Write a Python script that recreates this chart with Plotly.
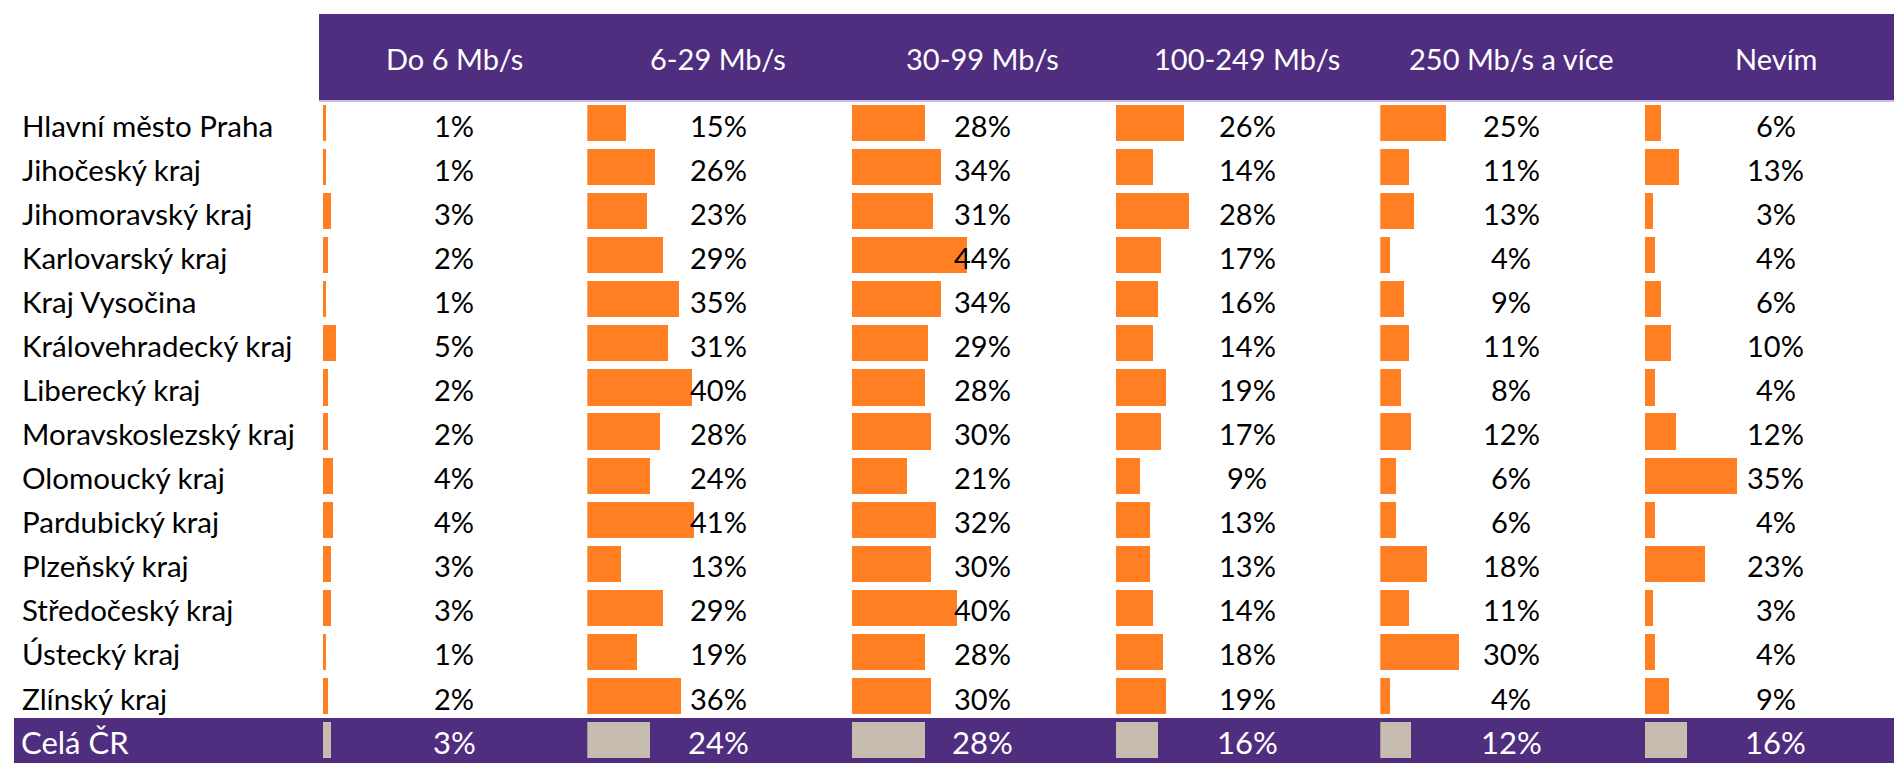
import plotly.graph_objects as go

regions = ["Hlavní město Praha", "Jihočeský kraj", "Jihomoravský kraj", "Karlovarský kraj",
           "Kraj Vysočina", "Královehradecký kraj", "Liberecký kraj", "Moravskoslezský kraj",
           "Olomoucký kraj", "Pardubický kraj", "Plzeňský kraj", "Středočeský kraj",
           "Ústecký kraj", "Zlínský kraj"]
total_label = "Celá ČR"
speeds = ["Do 6 Mb/s", "6-29 Mb/s", "30-99 Mb/s", "100-249 Mb/s", "250 Mb/s a více", "Nevím"]

do6 = [1, 1, 3, 2, 1, 5, 2, 2, 4, 4, 3, 3, 1, 2]
s6_29 = [15, 26, 23, 29, 35, 31, 40, 28, 24, 41, 13, 29, 19, 36]
s30_99 = [28, 34, 31, 44, 34, 29, 28, 30, 21, 32, 30, 40, 28, 30]
s100_249 = [26, 14, 28, 17, 16, 14, 19, 17, 9, 13, 13, 14, 18, 19]
s250 = [25, 11, 13, 4, 9, 11, 8, 12, 6, 6, 18, 11, 30, 4]
nevim = [6, 13, 3, 4, 6, 10, 4, 12, 35, 4, 23, 3, 4, 9]
total = [3, 24, 28, 16, 12, 16]

series = [do6, s6_29, s30_99, s100_249, s250, nevim]

W, H = 1894, 763
PURPLE = "#4F2D7F"
ORANGE = "#FF7F22"
BEIGE = "#C6BDB0"
FONT = "Lato"

col_start = [323, 587.3, 851.7, 1116, 1380.3, 1644.6]
px_per_pct = 2.62
xmax = 90
row0 = 123.0
pitch = 44.08

cats = regions + [total_label]
y_top = -row0 / pitch
y_bot = (H - row0) / pitch

fig = go.Figure()
layout_axes = {}
for k, (name, vals) in enumerate(zip(speeds, series)):
    ax = "" if k == 0 else str(k + 1)
    xname = "x" + ax
    fig.add_trace(go.Bar(
        x=vals, y=regions, orientation="h", base=0, width=0.82,
        marker=dict(color=ORANGE, line=dict(width=0)),
        xaxis=xname, yaxis="y", showlegend=False, hoverinfo="skip"))
    fig.add_trace(go.Bar(
        x=[total[k]], y=[total_label], orientation="h", base=0, width=0.82,
        marker=dict(color=BEIGE, line=dict(width=0)),
        xaxis=xname, yaxis="y", showlegend=False, hoverinfo="skip"))
    for r, v in zip(regions, vals):
        fig.add_annotation(x=50, y=r, xref=xname, yref="y", text=f"{v}%",
                           showarrow=False, xanchor="center", yanchor="middle", yshift=-2,
                           borderpad=0,
                           font=dict(family=FONT, size=29, color="#000000"))
    fig.add_annotation(x=50, y=total_label, xref=xname, yref="y", text=f"{total[k]}%",
                       showarrow=False, xanchor="center", yanchor="middle", yshift=-2,
                       borderpad=0,
                       font=dict(family=FONT, size=31, color="#FFFFFF"))
    d0 = col_start[k] / W
    d1 = min(1.0, (col_start[k] + px_per_pct * xmax) / W)
    layout_axes["xaxis" + ax] = dict(domain=[d0, d1], range=[0, xmax], visible=False,
                                     anchor="y", fixedrange=True)
    # header label
    fig.add_annotation(x=50, y=1 - 58 / H, xref=xname, yref="paper", text=name,
                       showarrow=False, xanchor="center", yanchor="middle",
                       font=dict(family=FONT, size=29, color="#FFFFFF"))

fig.update_layout(**layout_axes)
fig.update_layout(
    yaxis=dict(domain=[0, 1], range=[y_bot, y_top], type="category",
               categoryorder="array", categoryarray=cats, visible=False, fixedrange=True),
)

for r in regions:
    fig.add_annotation(x=21 / W, y=r, xref="paper", yref="y", text=r, showarrow=False,
                       xanchor="left", yanchor="middle", yshift=-2, borderpad=0,
                       font=dict(family=FONT, size=29.5, color="#000000"))
fig.add_annotation(x=20 / W, y=total_label, xref="paper", yref="y", text=total_label,
                   showarrow=False, xanchor="left", yanchor="middle", yshift=-2, borderpad=0,
                   font=dict(family=FONT, size=31, color="#FFFFFF"))

# header band
fig.add_shape(type="rect", xref="paper", yref="paper", x0=319 / W, x1=1,
              y0=1 - 100 / H, y1=1 - 14 / H, fillcolor=PURPLE, line=dict(width=0), layer="below")
fig.add_shape(type="line", xref="paper", yref="paper", x0=319 / W, x1=1,
              y0=1 - 101 / H, y1=1 - 101 / H, line=dict(color="#B8A8D6", width=1.5), layer="below")
# total row band
fig.add_shape(type="rect", xref="paper", yref="paper", x0=14 / W, x1=1,
              y0=0, y1=1 - 718 / H, fillcolor=PURPLE, line=dict(width=0), layer="below")

fig.update_layout(
    width=W, height=H, margin=dict(l=0, r=0, t=0, b=0),
    paper_bgcolor="#FFFFFF", plot_bgcolor="rgba(0,0,0,0)",
    bargap=0, showlegend=False,
)

fig.write_html("out.html", config={"displayModeBar": False},
               post_script="document.body.style.margin='0';document.body.style.overflow='hidden';")
